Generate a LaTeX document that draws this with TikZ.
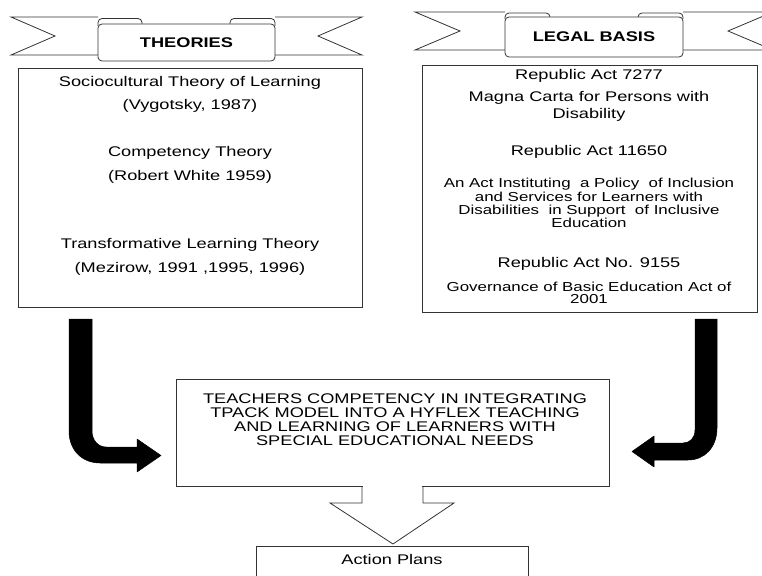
\documentclass[tikz,border=0pt]{standalone}
\usepackage{fontspec}
\setmainfont[FakeStretch=1.3]{Liberation Sans}
\begin{document}
\begin{tikzpicture}[x=1pt,y=-1pt,
  line/.style={draw=black!80,line width=0.8pt},
  box/.style={line,fill=white,rectangle,inner sep=0pt},
  txt/.style={font=\fontsize{14}{16}\selectfont,anchor=base,inner sep=0pt},
  stxt/.style={font=\fontsize{13}{15}\selectfont,anchor=base,inner sep=0pt},
  ttl/.style={box,rounded corners=4pt,font=\bfseries\fontsize{14}{16}\selectfont},
  blockarrow/.style={fill=black,draw=black,line width=0.5pt,line join=round}]
\useasboundingbox (0,0) rectangle (762,575);
\clip (0,0) rectangle (762,575);

% ---------- THEORIES ribbon ----------
\draw[line] (98,17) -- (11,17) -- (55,36) -- (11,55) -- (98,55);
\draw[line] (275,17) -- (362,17) -- (318,36) -- (362,55) -- (275,55);
\draw[line,fill=white,rounded corners=4pt] (142,26) -- (142,18.5) -- (98,18.5) -- (98,26);
\draw[line,fill=white,rounded corners=4pt] (230,26) -- (230,18.5) -- (275,18.5) -- (275,26);
\node[ttl,minimum width=177,minimum height=37] (theories) at (186.5,42.5) {THEORIES};

% ---------- LEGAL BASIS ribbon ----------
\draw[line] (505,12) -- (415,12) -- (460,31) -- (415,50) -- (505,50);
\draw[line] (683,12) -- (773,12) -- (728,31) -- (773,50) -- (683,50);
\draw[line,fill=white,rounded corners=4pt] (550,19) -- (550,13) -- (505,13) -- (505,19);
\draw[line,fill=white,rounded corners=4pt] (638,19) -- (638,13) -- (683,13) -- (683,19);
\node[ttl,minimum width=178,minimum height=40] (legal) at (594,37) {LEGAL BASIS};

% ---------- Theories box ----------
\node[box,minimum width=344,minimum height=239] (thbox) at (190,187.5) {};
\node[txt] (th1) at (190,87) {Sociocultural Theory of Learning};
\node[txt] (th2) at (190,110) {(Vygotsky, 1987)};
\node[txt] (th3) at (190,156) {Competency Theory};
\node[txt] (th4) at (190,180) {(Robert White 1959)};
\node[txt] (th5) at (190,248) {Transformative Learning Theory};
\node[txt] (th6) at (190,272) {(Mezirow, 1991 ,1995, 1996)};

% ---------- Legal basis box ----------
\node[box,minimum width=335,minimum height=247] (lbbox) at (589.5,188.5) {};
\node[txt] (lb1) at (589,80) {Republic Act 7277};
\node[txt] (lb2) at (589,102) {Magna Carta for Persons with};
\node[txt] (lb3) at (589,118) {Disability};
\node[txt] (lb4) at (589,155) {Republic Act 11650};
\node[stxt] (lb5) at (589,187) {An Act Instituting \ a Policy \ of Inclusion};
\node[stxt] (lb6) at (589,201) {and Services for Learners with};
\node[stxt] (lb7) at (589,214) {Disabilities \ in Support \ of Inclusive};
\node[stxt] (lb8) at (589,227) {Education};
\node[txt] (lb9) at (589,267) {Republic Act No. 9155};
\node[stxt] (lb10) at (589,291) {Governance of Basic Education Act of};
\node[stxt] (lb11) at (589,303) {2001};

% ---------- Centre box ----------
\node[box,minimum width=433,minimum height=107] (tpack) at (392.5,432.5) {};
\node[txt] (tp1) at (395,403) {TEACHERS COMPETENCY IN INTEGRATING};
\node[txt] (tp2) at (395,417) {TPACK MODEL INTO A HYFLEX TEACHING};
\node[txt] (tp3) at (395,431) {AND LEARNING OF LEARNERS WITH};
\node[txt] (tp4) at (395,445) {SPECIAL EDUCATIONAL NEEDS};

% ---------- Bent block arrows ----------
\path[blockarrow] (69,319) -- (69,431) .. controls (69,450) and (82,463) .. (100,463)
  -- (137,463) -- (137,472) -- (161,455.5) -- (137,439) -- (137,447) -- (106,447)
  .. controls (98,447) and (92,440) .. (92,431) -- (92,319) -- cycle;
\path[blockarrow] (717,319) -- (717,428) .. controls (717,447) and (705,460) .. (688,460)
  -- (654,460) -- (654,467) -- (632,451.5) -- (654,436) -- (654,443) -- (683,443)
  .. controls (690,443) and (695,438) .. (695,430) -- (695,319) -- cycle;

% ---------- Action plans ----------
\node[box,minimum width=272,minimum height=60] (action) at (392,576) {};
\node[txt] (ap) at (392,564) {Action Plans};

% ---------- Down block arrow ----------
\fill[white] (362.6,484) rectangle (422.4,503);
\draw[line,line join=miter] (tpack.south -| 362,0) -- (362,503) -- (330,503) -- (393,544)
  -- (454,503) -- (423,503) -- (tpack.south -| 423,0);
\end{tikzpicture}
\end{document}
